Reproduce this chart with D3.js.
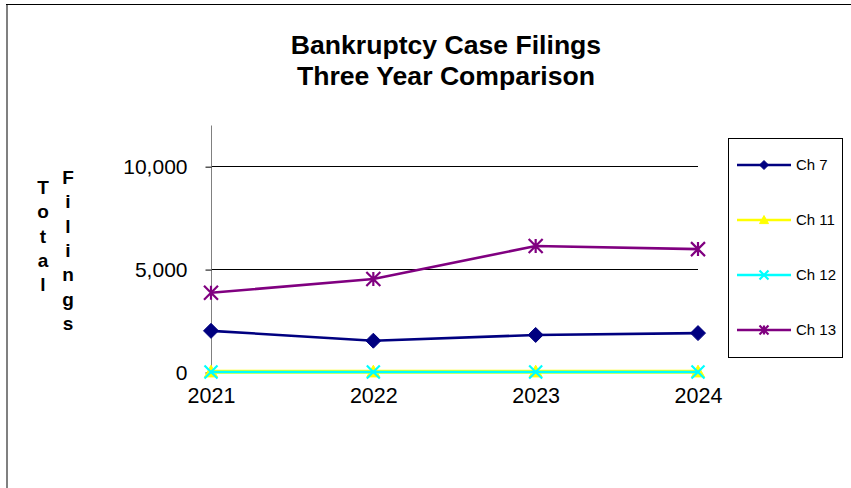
<!DOCTYPE html>
<html><head><meta charset="utf-8">
<script src="https://cdn.jsdelivr.net/npm/d3@7"></script>
<style>body{margin:0;background:#fff}svg{display:block;font-family:"Liberation Sans",Arial,sans-serif}</style>
</head><body>
<svg id="c" width="851" height="488"></svg>
<script>
const years = ["2021","2022","2023","2024"];
const seriesNames = ["Ch 7","Ch 11","Ch 12","Ch 13"];
const ch7 = [2000, 1520, 1800, 1890];
const ch11 = [15, 15, 15, 15];
const ch12 = [2, 2, 2, 2];
const ch13 = [3850, 4520, 6120, 5970];
const yTicks = [0, 5000, 10000];
const colors = ["#000080","#FFFF00","#00FFFF","#800080"];
const markers = ["diamond","triangle","x","star"];
const values = [ch7, ch11, ch12, ch13];

const svg = d3.select("#c");
// frame
svg.append("line").attr("x1",7).attr("x2",7).attr("y1",4).attr("y2",488).attr("stroke","#808080").attr("stroke-width",2);
svg.append("line").attr("x1",6).attr("x2",851).attr("y1",4.5).attr("y2",4.5).attr("stroke","#000").attr("stroke-width",1);

// title
const title = svg.append("text").attr("text-anchor","middle").attr("font-weight","bold").attr("font-size",26.6).attr("fill","#000");
title.append("tspan").attr("x",446).attr("y",54).text("Bankruptcy Case Filings");
title.append("tspan").attr("x",446).attr("y",85).text("Three Year Comparison");

const x = d3.scalePoint().domain(years).range([211, 698]);
const y = d3.scaleLinear().domain([0, 12000]).range([372, 125]);

// gridlines
svg.append("g").selectAll("line").data(yTicks.filter(d=>d>0)).join("line")
  .attr("x1",211).attr("x2",698).attr("y1",d=>Math.round(y(d))+0.5).attr("y2",d=>Math.round(y(d))+0.5)
  .attr("stroke","#000").attr("stroke-width",1);

// y axis
const yAxis = d3.axisLeft(y).tickValues(yTicks).tickSize(6).tickPadding(18).tickFormat(d3.format(","));
const gy = svg.append("g").attr("transform","translate(211.5,0.5)").call(yAxis);
gy.select(".domain").attr("stroke","#808080").attr("d","M0,"+(y(12000))+"V"+y(0));
gy.selectAll(".tick line").attr("stroke","#000");
gy.selectAll(".tick text").attr("font-size",21).attr("font-family","Liberation Sans, Arial, sans-serif").attr("fill","#000").attr("dy","0.33em");

// x axis
const xAxis = d3.axisBottom(x).tickSize(0).tickPadding(15);
const gx = svg.append("g").attr("transform","translate(0,"+(y(0)+0.5)+")").call(xAxis);
gx.select(".domain").attr("stroke","#000").attr("d","M211,0H698");
gx.selectAll(".tick text").attr("font-size",21.5).attr("font-family","Liberation Sans, Arial, sans-serif").attr("fill","#000");

// y title (stacked letters)
function stacked(word, cx, y0){
  const t = svg.append("text").attr("font-weight","bold").attr("font-size",19).attr("text-anchor","middle").attr("fill","#000");
  word.split("").forEach((ch,i)=>{
    t.append("tspan").attr("x",cx).attr("y",y0+i*24.3).text(ch);
  });
}
stacked("Total", 43, 194);
stacked("Filings", 68, 184);

function markerPath(type, s){
  const h = s/2;
  if(type==="diamond") return `M0,${-h}L${h},0L0,${h}L${-h},0Z`;
  if(type==="triangle") return `M0,${-h}L${h},${h*0.8}L${-h},${h*0.8}Z`;
  if(type==="x") return `M${-h},${-h}L${h},${h}M${-h},${h}L${h},${-h}`;
  return `M${-h},${-h}L${h},${h}M${-h},${h}L${h},${-h}M0,${-h}V${h}`;
}
function drawMarker(g, type, color, s){
  const filled = type==="diamond"||type==="triangle";
  g.append("path").attr("d",markerPath(type,s))
    .attr("fill",filled?color:"none").attr("stroke",color).attr("stroke-width",filled?1:2.2);
}

const line = d3.line().x((d,i)=>x(years[i])).y(d=>y(d));
values.forEach((vals,si)=>{
  const g = svg.append("g");
  g.append("path").attr("d",line(vals)).attr("fill","none").attr("stroke",colors[si]).attr("stroke-width",si===1?4:2.6);
  vals.forEach((v,i)=>{
    const mg = g.append("g").attr("transform",`translate(${x(years[i])},${y(v)})`);
    drawMarker(mg, markers[si], colors[si], si===0?15:(si===3?14:13));
  });
});

// legend
svg.append("rect").attr("x",728.5).attr("y",138.5).attr("width",114).attr("height",219).attr("fill","#fff").attr("stroke","#000").attr("stroke-width",1);
seriesNames.forEach((n,i)=>{
  const ly = 165 + i*55;
  svg.append("line").attr("x1",737).attr("x2",791).attr("y1",ly).attr("y2",ly).attr("stroke",colors[i]).attr("stroke-width",2.6);
  const mg = svg.append("g").attr("transform",`translate(764,${ly})`);
  drawMarker(mg, markers[i], colors[i], 9);
  svg.append("text").attr("x",796).attr("y",ly).attr("dy","0.36em").attr("font-size",15).attr("fill","#000").text(n);
});
</script>
</body></html>
